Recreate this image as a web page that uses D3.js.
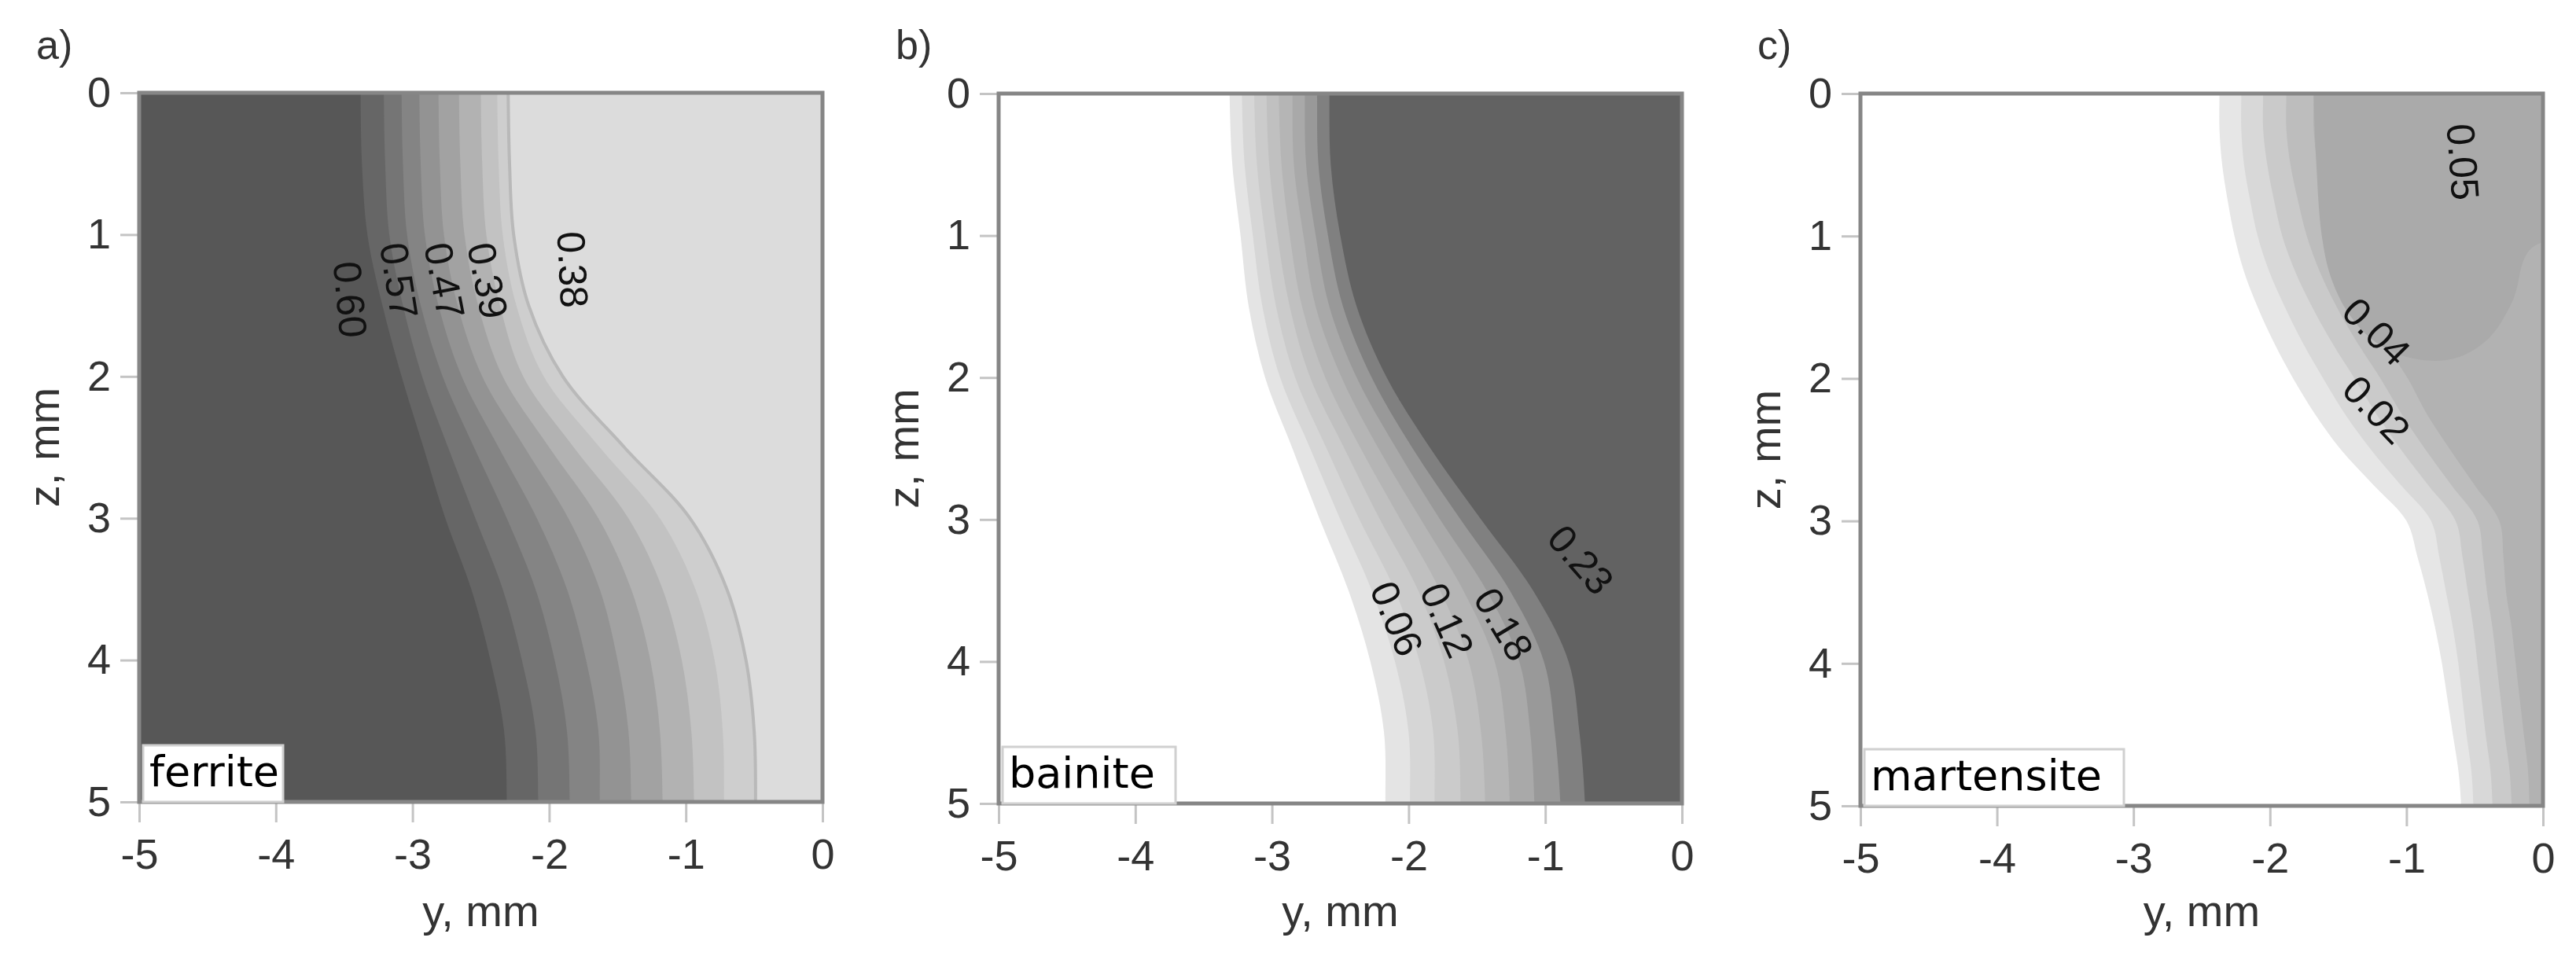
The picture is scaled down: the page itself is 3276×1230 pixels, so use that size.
<!DOCTYPE html>
<html><head><meta charset="utf-8">
<script src="https://cdn.jsdelivr.net/npm/d3@7"></script>
<style>body{margin:0;background:#fff} svg{display:block}</style>
</head><body>
<svg id="chart" width="3276" height="1230"></svg>
<script>
// ---------------- DATA ----------------
const yTicks = [-5, -4, -3, -2, -1, 0];
const zTicks = [0, 1, 2, 3, 4, 5];
const panelLetters = ["a)", "b)", "c)"];
const phaseNames = ["ferrite", "bainite", "martensite"];
const xTitle = "y, mm";
const zTitleText = "z, mm";

// ferrite: contour boundaries y(z), from dark (0.60) side to light (0.38) side
const zA = [0, 0.5, 1, 1.5, 2, 2.5, 3, 3.5, 4, 4.5, 5];
const ferrite0 = [-3.38,-3.37,-3.33,-3.22,-3.08,-2.92,-2.76,-2.57,-2.43,-2.33,-2.31];
const ferrite1 = [-3.21,-3.20,-3.17,-3.07,-2.93,-2.74,-2.54,-2.34,-2.20,-2.10,-2.08];
const ferrite2 = [-3.08,-3.07,-3.04,-2.94,-2.78,-2.55,-2.31,-2.10,-1.96,-1.87,-1.85];
const ferrite3 = [-2.95,-2.94,-2.91,-2.81,-2.64,-2.37,-2.09,-1.87,-1.73,-1.64,-1.63];
const ferrite4 = [-2.81,-2.80,-2.77,-2.67,-2.49,-2.18,-1.86,-1.63,-1.50,-1.42,-1.40];
const ferrite5 = [-2.66,-2.65,-2.62,-2.52,-2.34,-2.00,-1.64,-1.40,-1.26,-1.19,-1.17];
const ferrite6 = [-2.50,-2.49,-2.46,-2.36,-2.19,-1.82,-1.42,-1.17,-1.03,-0.96,-0.94];
const ferrite7 = [-2.38,-2.37,-2.34,-2.24,-2.04,-1.63,-1.19,-0.93,-0.79,-0.73,-0.72];
const ferrite8 = [-2.30,-2.29,-2.26,-2.15,-1.90,-1.45,-0.97,-0.70,-0.56,-0.50,-0.49];

// bainite: from white (0) side to dark (0.23) side
const zB = [0, 0.5, 1, 1.5, 2, 2.5, 3, 3.5, 4, 4.5, 5];
const bainite0 = [-3.31,-3.29,-3.23,-3.17,-3.05,-2.85,-2.65,-2.44,-2.28,-2.18,-2.17];
const bainite1 = [-3.22,-3.20,-3.14,-3.07,-2.94,-2.72,-2.50,-2.27,-2.10,-2.00,-1.99];
const bainite2 = [-3.13,-3.11,-3.05,-2.97,-2.83,-2.60,-2.36,-2.10,-1.92,-1.82,-1.81];
const bainite3 = [-3.04,-3.02,-2.96,-2.87,-2.72,-2.47,-2.21,-1.93,-1.74,-1.64,-1.62];
const bainite4 = [-2.95,-2.93,-2.87,-2.78,-2.61,-2.35,-2.06,-1.77,-1.56,-1.47,-1.44];
const bainite5 = [-2.85,-2.84,-2.77,-2.68,-2.49,-2.22,-1.91,-1.60,-1.37,-1.29,-1.26];
const bainite6 = [-2.76,-2.75,-2.68,-2.58,-2.38,-2.09,-1.77,-1.43,-1.19,-1.11,-1.08];
const bainite7 = [-2.67,-2.66,-2.59,-2.48,-2.27,-1.97,-1.62,-1.26,-1.01,-0.93,-0.89];
const bainite8 = [-2.58,-2.57,-2.50,-2.38,-2.16,-1.84,-1.47,-1.09,-0.83,-0.75,-0.71];

// martensite: from white (0) side towards 0.04
const zC = [0,0.25,0.5,0.75,1,1.25,1.5,1.75,2,2.25,2.5,2.75,3,3.25,3.5,3.75,4,4.25,4.5,4.75,5];
const martensite0 = [-2.37,-2.37,-2.35,-2.31,-2.26,-2.19,-2.09,-1.97,-1.83,-1.67,-1.48,-1.24,-1.00,-0.92,-0.85,-0.79,-0.74,-0.70,-0.66,-0.62,-0.60];
const martensite1 = [-2.21,-2.21,-2.19,-2.145,-2.09,-2.005,-1.89,-1.76,-1.61,-1.45,-1.26,-1.04,-0.82,-0.76,-0.71,-0.66,-0.62,-0.59,-0.56,-0.525,-0.51];
const martensite2 = [-2.05,-2.05,-2.02,-1.97,-1.91,-1.815,-1.69,-1.545,-1.38,-1.22,-1.04,-0.84,-0.64,-0.59,-0.55,-0.51,-0.48,-0.45,-0.42,-0.385,-0.37];
const martensite3 = [-1.88,-1.88,-1.85,-1.795,-1.73,-1.635,-1.51,-1.36,-1.19,-1.035,-0.86,-0.67,-0.48,-0.44,-0.41,-0.37,-0.34,-0.31,-0.28,-0.245,-0.23];
const martensite4 = [-1.68,-1.68,-1.65,-1.59,-1.52,-1.43,-1.31,-1.16,-0.99,-0.85,-0.68,-0.50,-0.32,-0.29,-0.27,-0.23,-0.20,-0.17,-0.14,-0.11,-0.10];
// 0.05 region (closed outline, y and z)
const martensiteCapY = [-1.68,-1.68,-1.66,-1.62,-1.55,-1.42,-1.22,-0.95,-0.65,-0.40,-0.22,-0.10,0.3,0.3];
const martensiteCapZ = [-0.2, 0.0, 0.5, 1.0, 1.3, 1.55, 1.75, 1.86, 1.86, 1.72, 1.45, 1.1, 0.9,-0.2];

// contour labels: text, y, z, angle
const labelsA = [["0.60",-3.458,1.458,85],["0.57",-3.101,1.325,81],["0.47",-2.768,1.325,79],["0.39",-2.451,1.325,79],["0.38",-1.830,1.247,87]];
const labelsB = [["0.06",-2.089,3.699,67],["0.12",-1.720,3.710,66],["0.18",-1.306,3.738,59],["0.23",-0.742,3.284,49]];
const labelsC = [["0.05",-0.588,0.48,86],["0.04",-1.221,1.672,45],["0.02",-1.221,2.219,46]];

// ---------------- STYLE / LAYOUT ----------------
const colorsA = ["#575757","#666666","#757575","#848484","#939393","#a2a2a2","#b2b2b2","#c2c2c2","#cecece","#dcdcdc"];
const colorsB = ["#ffffff","#e4e4e4","#d6d6d6","#cbcbcb","#c0c0c0","#b5b5b5","#a9a9a9","#999999","#808080","#626262"];
const colorsC = ["#ffffff","#e6e6e6","#d8d8d8","#cacaca","#bdbdbd","#b2b2b2"];
const capColor = "#aaaaaa";

const panels = [
  {left:177,  right:1046, top:118, bottom:1020, zs:zA, bounds:[ferrite0,ferrite1,ferrite2,ferrite3,ferrite4,ferrite5,ferrite6,ferrite7,ferrite8], colors:colorsA, labels:labelsA, boxW:178},
  {left:1270, right:2139, top:119, bottom:1022, zs:zB, bounds:[bainite0,bainite1,bainite2,bainite3,bainite4,bainite5,bainite6,bainite7,bainite8], colors:colorsB, labels:labelsB, boxW:220},
  {left:2366, right:3234, top:119, bottom:1025, zs:zC, bounds:[martensite0,martensite1,martensite2,martensite3,martensite4], colors:colorsC, labels:labelsC, boxW:330}
];

const FONT = "'Liberation Sans', Arial, sans-serif";
const svg = d3.select("#chart");

panels.forEach((p, pi) => {
  const x = d3.scaleLinear().domain([-5, 0]).range([p.left, p.right]);
  const z = d3.scaleLinear().domain([0, 5]).range([p.top, p.bottom]);
  const g = svg.append("g");
  const clipId = "clip" + pi;
  svg.append("clipPath").attr("id", clipId).append("rect")
    .attr("x", p.left).attr("y", p.top).attr("width", p.right - p.left).attr("height", p.bottom - p.top);
  const field = g.append("g").attr("clip-path", `url(#${clipId})`);
  field.append("rect").attr("x", x(-5)).attr("y", z(0)).attr("width", x(0) - x(-5)).attr("height", z(5) - z(0))
    .attr("fill", p.colors[0]);
  const area = d3.area().curve(d3.curveCatmullRom.alpha(0.5))
    .y(d => z(d.z)).x0(d => x(d.y)).x1(x(0.2));
  p.bounds.forEach((b, i) => {
    const pts = p.zs.map((zz, j) => ({z: zz, y: b[j]}));
    const ext = [{z: -0.3, y: b[0]}, ...pts, {z: 5.3, y: b[b.length - 1]}];
    field.append("path").attr("d", area(ext)).attr("fill", p.colors[i + 1]);
  });
  if (pi === 0) {
    const b = p.bounds[p.bounds.length - 1];
    const line = d3.line().curve(d3.curveCatmullRom.alpha(0.5)).x(d => x(d.y)).y(d => z(d.z));
    field.append("path").attr("d", line(p.zs.map((zz, j) => ({z: zz, y: b[j]}))))
      .attr("fill", "none").attr("stroke", "#b9b9b9").attr("stroke-width", 4);
  }
  if (pi === 2) {
    const capPts = martensiteCapY.map((yy, j) => ({y: yy, z: martensiteCapZ[j]}));
    const line = d3.line().curve(d3.curveCatmullRom.alpha(0.5)).x(d => x(d.y)).y(d => z(d.z));
    field.append("path").attr("d", line(capPts) + "Z").attr("fill", capColor);
  }

  // axes
  const yAxis = d3.axisLeft(z).tickValues(zTicks).tickSize(24).tickPadding(12).tickFormat(d3.format("d"));
  const ga = svg.append("g").attr("transform", `translate(${p.left},0)`).call(yAxis);
  const xAxis = d3.axisBottom(x).tickValues(yTicks).tickSize(26).tickPadding(21).tickFormat(d => d < 0 ? "-" + Math.abs(d) : d);
  const gb = svg.append("g").attr("transform", `translate(0,${p.bottom})`).call(xAxis);
  [ga, gb].forEach(a => {
    a.select(".domain").remove();
    a.selectAll(".tick line").attr("stroke", "#c4c4c4").attr("stroke-width", 3);
    a.selectAll(".tick text").attr("fill", "#333").style("font-family", FONT).style("font-size", "54px");
  });

  // frame
  svg.append("rect").attr("x", p.left).attr("y", p.top).attr("width", p.right - p.left).attr("height", p.bottom - p.top)
    .attr("fill", "none").attr("stroke", "#868686").attr("stroke-width", 5);

  // contour labels
  p.labels.forEach(l => {
    svg.append("text").attr("transform", `translate(${x(l[1])},${z(l[2])}) rotate(${l[3]})`)
      .attr("text-anchor", "middle").attr("dominant-baseline", "central")
      .style("font-family", FONT).style("font-size", "50px").attr("fill", "#111")
      .text(l[0]);
  });

  // phase label box
  const bx = p.left + 5, by = p.bottom - 72;
  svg.append("rect").attr("x", bx).attr("y", by).attr("width", p.boxW).attr("height", 72)
    .attr("fill", "#fff").attr("stroke", "#d0d0d0").attr("stroke-width", 3);
  svg.append("text").attr("x", bx + 8).attr("y", p.bottom - 20)
    .style("font-family", "'DejaVu Sans', sans-serif").style("font-size", "54px").attr("fill", "#000")
    .text(phaseNames[pi]);

  // panel letter
  svg.append("text").attr("x", p.left - 131).attr("y", 75)
    .style("font-family", FONT).style("font-size", "52px").attr("fill", "#333").text(panelLetters[pi]);

  // axis titles
  svg.append("text").attr("x", (p.left + p.right) / 2).attr("y", 1178).attr("text-anchor", "middle")
    .style("font-family", FONT).style("font-size", "56px").attr("fill", "#333").text(xTitle);
  svg.append("text").attr("transform", `translate(${p.left - 102},${(p.top + p.bottom) / 2}) rotate(-90)`)
    .attr("text-anchor", "middle")
    .style("font-family", FONT).style("font-size", "56px").attr("fill", "#333").text(zTitleText);
});
</script>
</body></html>
